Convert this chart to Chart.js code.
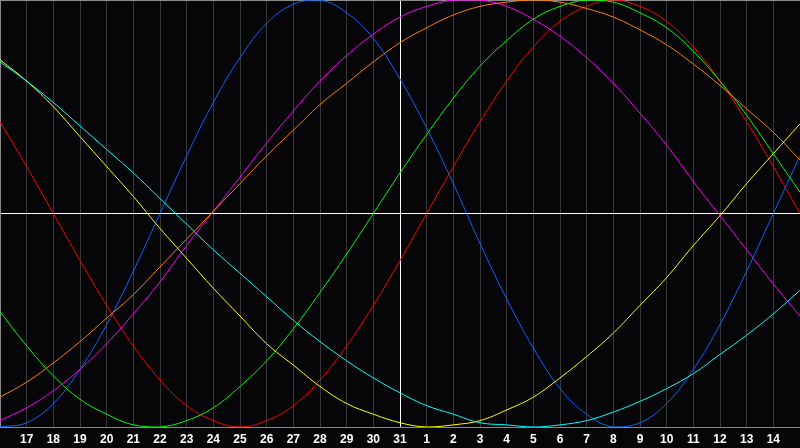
<!DOCTYPE html>
<html>
<head>
<meta charset="utf-8">
<script src="https://cdn.jsdelivr.net/npm/chart.js@4.4.0/dist/chart.umd.min.js"></script>
<style>
html,body{margin:0;padding:0;background:#060609;overflow:hidden;}
canvas{display:block;}
</style>
</head>
<body>
<canvas id="c" width="800" height="448"></canvas>
<script>
// Day labels (first and last sit on the chart edges and are not shown)
const days = ['16','17','18','19','20','21','22','23','24','25','26','27','28','29','30','31',
              '1','2','3','4','5','6','7','8','9','10','11','12','13','14','15'];

// Cycle values in percent, one per day
const blueCycle    = [-100,-98,-89,-73,-52,-27,0,27,52,73,89,98,100,94,82,63,40,14,-14,-40,-63,-82,-94,-100,-98,-89,-73,-52,-27,0,27];
const redCycle     = [43,22,0,-22,-43,-62,-78,-90,-97,-100,-97,-90,-78,-62,-43,-22,0,22,43,62,78,90,97,100,97,90,78,62,43,22,0];
const greenCycle   = [-46,-62,-76,-87,-94,-99,-100,-97,-91,-81,-69,-54,-37,-19,0,19,37,54,69,81,91,97,100,99,94,87,76,62,46,28,10];
const magentaCycle = [-97,-91,-83,-73,-61,-47,-32,-15,1,17,33,48,62,74,84,92,97,100,100,97,91,83,73,61,47,32,15,-1,-17,-33,-48];
const yellowCycle  = [72,62,50,36,22,8,-7,-21,-35,-48,-61,-71,-81,-89,-94,-98,-100,-99,-97,-92,-86,-77,-67,-56,-43,-30,-15,-1,14,28,42];
const orangeCycle  = [-86,-79,-70,-60,-49,-38,-25,-12,1,14,27,39,51,61,71,80,87,93,97,99,100,99,96,92,86,79,70,60,49,38,25];
const cyanCycle    = [71,62,52,41,30,19,7,-5,-17,-28,-39,-50,-60,-69,-77,-84,-90,-94,-98,-99,-100,-99,-97,-93,-88,-82,-75,-66,-57,-47,-36];

const todayIndex = 15;
const GRID = '#383838';
const FRAME = '#8a8a8a';

function ds(data, color){
  return {data, borderColor: color, borderWidth: 1, pointRadius: 0, fill: false, tension: 0.4};
}

new Chart(document.getElementById('c'), {
  type: 'line',
  data: {
    labels: days,
    datasets: [
      ds(cyanCycle, '#00ffff'),
      ds(yellowCycle, '#ffff00'),
      ds(orangeCycle, '#ff8000'),
      ds(magentaCycle, '#ff00ff'),
      ds(greenCycle, '#00ff00'),
      ds(redCycle, '#ff0000'),
      ds(blueCycle, '#0a64ff')
    ]
  },
  options: {
    responsive: false,
    animation: false,
    devicePixelRatio: 1,
    layout: {padding: 0},
    plugins: {legend: {display: false}, tooltip: {enabled: false}},
    scales: {
      x: {
        type: 'category',
        offset: false,
        afterFit: (scale) => { scale.height = 21; },
        grid: {
          color: (ctx) => ctx.index === todayIndex ? '#ffffff' : (ctx.index === 0 ? FRAME : GRID),
          lineWidth: 1,
          drawTicks: true,
          tickLength: 5,
          tickColor: 'rgba(0,0,0,0)'
        },
        border: {display: true, color: FRAME, width: 1},
        ticks: {
          autoSkip: false,
          maxRotation: 0,
          padding: 0,
          color: '#ffffff',
          font: {family: '"Liberation Sans", Arial, sans-serif', size: 12, weight: 'bold'},
          callback: function(v, i){ return (i === 0 || i === days.length - 1) ? '' : days[i]; }
        }
      },
      y: {
        min: -100, max: 100,
        display: true,
        afterFit: (scale) => { scale.width = 0; },
        grid: {
          color: (ctx) => ctx.tick && ctx.tick.value === 0 ? '#ffffff' : (ctx.tick && ctx.tick.value === 100 ? FRAME : 'rgba(0,0,0,0)'),
          lineWidth: 1,
          drawTicks: false
        },
        border: {display: true, color: FRAME, width: 1},
        ticks: {display: false, stepSize: 100}
      }
    }
  }
});
</script>
</body>
</html>
